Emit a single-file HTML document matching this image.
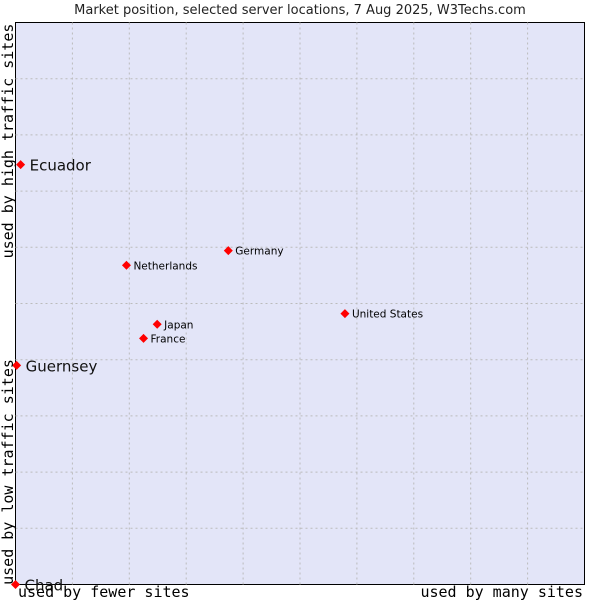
<!DOCTYPE html>
<html><head><meta charset="utf-8"><style>
body{margin:0;background:#fff;}
svg{display:block;font-family:"DejaVu Sans","Liberation Sans",sans-serif;}
</style></head><body>
<svg id="chart" width="600" height="600">
<text x="300" y="14" text-anchor="middle" font-size="13" fill="#222">Market position, selected server locations, 7 Aug 2025, W3Techs.com</text>
<rect x="15.5" y="22.5" width="569" height="562" fill="#e3e5f8" stroke="#000"/>
<g id="grid"></g>
<g id="pts"></g>
<text transform="translate(13,141) rotate(-90)" text-anchor="middle" font-family="DejaVu Sans Mono,Liberation Mono,monospace" font-size="15" fill="#000">used by high traffic sites</text>
<text transform="translate(13,472) rotate(-90)" text-anchor="middle" font-family="DejaVu Sans Mono,Liberation Mono,monospace" font-size="15" fill="#000">used by low traffic sites</text>
<text x="18" y="597" font-family="DejaVu Sans Mono,Liberation Mono,monospace" font-size="15" fill="#000">used by fewer sites</text>
<text x="583" y="597" text-anchor="end" font-family="DejaVu Sans Mono,Liberation Mono,monospace" font-size="15" fill="#000">used by many sites</text>
</svg>
<script>
const names=["Ecuador","Guernsey","Chad","Netherlands","Germany","United States","Japan","France"];
const xVals=[0.9,0.2,0,19.5,37.4,57.9,24.9,22.5];
const yVals=[74.7,39,0,56.8,59.4,48.2,46.3,43.8];
const big=[true,true,true,false,false,false,false,false];
const L=15.5,R=584.5,T=22.5,B=584.5;
const sx=v=>L+(R-L)*v/100, sy=v=>B-(B-T)*v/100;
const NS="http://www.w3.org/2000/svg";
const grid=document.getElementById('grid');
for(let i=1;i<10;i++){
 const v=document.createElementNS(NS,'line');
 
 
 v.setAttribute('x1',sx(i*10));v.setAttribute('x2',sx(i*10));v.setAttribute('y1',T);v.setAttribute('y2',B);
 v.setAttribute('stroke','#bbb');v.setAttribute('stroke-dasharray','2,3');grid.appendChild(v);
 const h=document.createElementNS(NS,'line');
 
 
 h.setAttribute('y1',sy(i*10));h.setAttribute('y2',sy(i*10));h.setAttribute('x1',L);h.setAttribute('x2',R);
 h.setAttribute('stroke','#bbb');h.setAttribute('stroke-dasharray','2,3');grid.appendChild(h);
}
const pts=document.getElementById('pts');
names.forEach((n,i)=>{
 const x=sx(xVals[i]),y=sy(yVals[i]);
 const p=document.createElementNS(NS,'path');
 
 
 p.setAttribute('d',`M${x-4.5},${y}L${x},${y-4.5}L${x+4.5},${y}L${x},${y+4.5}Z`);
 p.setAttribute('fill','#f00');pts.appendChild(p);
 const t=document.createElementNS(NS,'text');
 
 
 t.setAttribute('x',x+(big[i]?9:7));t.setAttribute('y',y+(big[i]?6:4));
 t.setAttribute('font-size',big[i]?15:10.5);t.setAttribute('fill',big[i]?'#111':'#000');
 t.textContent=n;pts.appendChild(t);
});
</script>
</body></html>
